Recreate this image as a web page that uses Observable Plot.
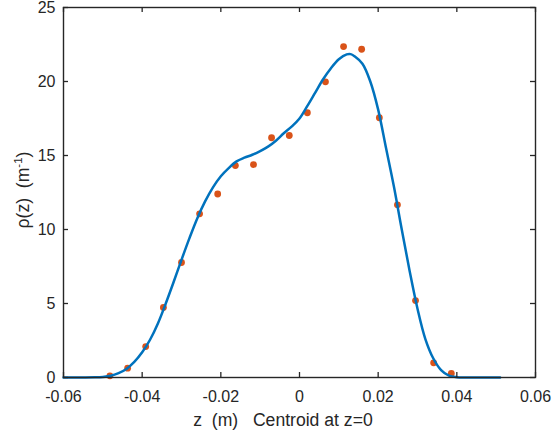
<!DOCTYPE html>
<html><head><meta charset="utf-8">
<script src="https://cdn.jsdelivr.net/npm/d3@7"></script>
<script src="https://cdn.jsdelivr.net/npm/@observablehq/plot@0.6"></script>
<style>body{margin:0;background:#fff} svg{display:block}</style>
</head><body><div id="chart"></div>
<script>
const xTicks = [-0.06, -0.04, -0.02, 0, 0.02, 0.04, 0.06];
const yTicks = [0, 5, 10, 15, 20, 25];

const sampleZ = [-0.0482, -0.0437, -0.0391, -0.0346, -0.0300, -0.0254, -0.0208, -0.0163, -0.0117, -0.0071,
                 -0.0026, 0.0020, 0.0066, 0.0112, 0.0158, 0.0203, 0.0249, 0.0295, 0.0341, 0.0386];
const sampleRho = [0.11, 0.63, 2.09, 4.73, 7.77, 11.06, 12.4, 14.32, 14.39, 16.2,
                   16.35, 17.89, 19.98, 22.36, 22.18, 17.55, 11.67, 5.2, 0.99, 0.27];

const fitZ = [-0.060, -0.055, -0.052, -0.050, -0.048, -0.046, -0.044, -0.042, -0.040, -0.038,
              -0.036, -0.034, -0.032, -0.030, -0.028, -0.026, -0.024, -0.022, -0.020, -0.018,
              -0.016, -0.014, -0.012, -0.010, -0.008, -0.006, -0.004, -0.002, 0.000, 0.002,
              0.004, 0.006, 0.008, 0.010, 0.012, 0.013, 0.014, 0.016, 0.018, 0.020,
              0.022, 0.024, 0.026, 0.028, 0.030, 0.032, 0.034, 0.036, 0.038, 0.040,
              0.042, 0.046, 0.051];
const fitRho = [0, 0, 0.01, 0.04, 0.12, 0.3, 0.58, 1.05, 1.7, 2.55,
                3.65, 5.0, 6.45, 7.95, 9.4, 10.75, 11.9, 12.85, 13.6, 14.15,
                14.6, 14.85, 15.05, 15.3, 15.6, 16.0, 16.5, 16.95, 17.5, 18.35,
                19.25, 20.15, 20.9, 21.5, 21.83, 21.85, 21.7, 21.2, 20.0, 18.1,
                15.5, 12.9, 10.0, 7.2, 4.65, 2.6, 1.3, 0.5, 0.12, 0.02,
                0, 0, 0];

const xLabel = "z  (m)   Centroid at z=0";
const yLabelMain = "\u03C1(z)  (m";
const yLabelSup = "-1";
const yLabelEnd = ")";

const samples = sampleZ.map((z, i) => ({z, rho: sampleRho[i]}));
const fit = fitZ.map((z, i) => ({z, rho: fitRho[i]}));
const fmtX = d => d === 0 ? "0" : d.toFixed(2);
const ink = "#262626";

const W = 553, H = 440, mL = 63, mR = 18, mT = 7, mB = 63;
const frameW = W - mL - mR, frameH = H - mT - mB, tk = 5;

const plot = Plot.plot({
  width: W, height: H,
  marginLeft: mL, marginRight: mR, marginTop: mT, marginBottom: mB,
  style: {fontFamily: "'Liberation Sans', Arial, sans-serif", fontSize: "16px", color: ink, background: "#fff"},
  x: {domain: [-0.06, 0.06]},
  y: {domain: [0, 25]},
  marks: [
    Plot.dot(samples, {x: "z", y: "rho", r: 3.4, fill: "#D95319", stroke: "none"}),
    Plot.line(fit, {x: "z", y: "rho", stroke: "#0072BD", strokeWidth: 2.5, curve: "catmull-rom"}),
    Plot.axisX(xTicks, {anchor: "bottom", tickSize: 0, tickPadding: 13, tickFormat: fmtX, label: null, fill: ink}),
    Plot.axisY(yTicks, {anchor: "left", tickSize: 0, tickPadding: 8, tickFormat: d => String(d), label: null, fill: ink}),
    Plot.tickX(xTicks, {x: d => d, insetTop: frameH - tk, stroke: ink, strokeWidth: 1.3}),
    Plot.tickX(xTicks, {x: d => d, insetBottom: frameH - tk, stroke: ink, strokeWidth: 1.3}),
    Plot.tickY(yTicks, {y: d => d, insetRight: frameW - tk, stroke: ink, strokeWidth: 1.3}),
    Plot.tickY(yTicks, {y: d => d, insetLeft: frameW - tk, stroke: ink, strokeWidth: 1.3}),
    Plot.frame({stroke: ink, strokeWidth: 1.4})
  ]
});

const svg = d3.select(plot);
svg.append("text")
  .attr("x", 283).attr("y", 426)
  .attr("text-anchor", "middle")
  .attr("fill", ink)
  .attr("font-size", 17.6)
  .style("white-space", "pre")
  .text(xLabel);

const yl = svg.append("text")
  .attr("transform", "translate(29,190) rotate(-90)")
  .attr("text-anchor", "middle")
  .attr("fill", ink)
  .attr("font-size", 17.6)
  .style("white-space", "pre");
yl.append("tspan").text(yLabelMain);
yl.append("tspan").attr("font-size", 11.5).attr("dy", -7).text(yLabelSup);
yl.append("tspan").attr("dy", 7).text(yLabelEnd);

document.getElementById("chart").appendChild(plot);
</script>
</body></html>
